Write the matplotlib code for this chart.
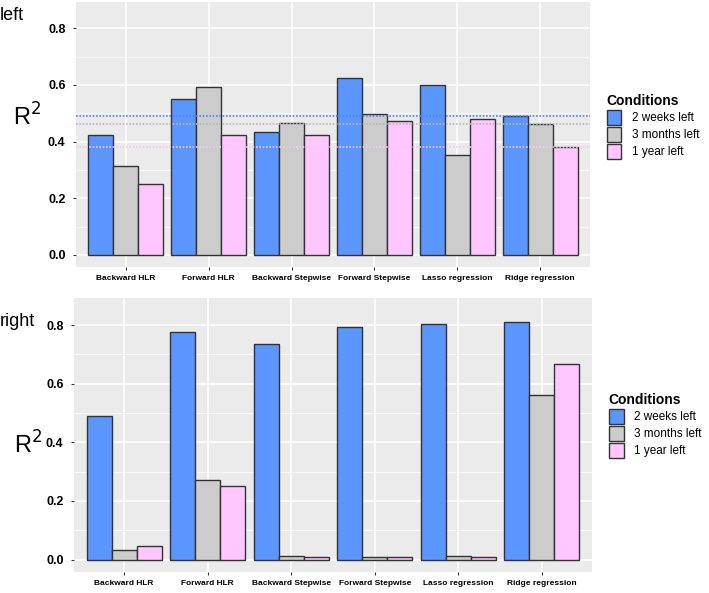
import matplotlib
matplotlib.use("Agg")
import matplotlib.pyplot as plt
import numpy as np
from matplotlib.patches import Patch

plt.rcParams['font.family'] = ['Liberation Sans', 'DejaVu Sans']

categories = ["Backward HLR", "Forward HLR", "Backward Stepwise",
              "Forward Stepwise", "Lasso regression", "Ridge regression"]
conditions = ["2 weeks left", "3 months left", "1 year left"]

left_2w = [0.422, 0.549, 0.434, 0.626, 0.598, 0.491]
left_3m = [0.313, 0.593, 0.467, 0.498, 0.351, 0.461]
left_1y = [0.250, 0.422, 0.422, 0.472, 0.481, 0.382]

right_2w = [0.489, 0.775, 0.734, 0.793, 0.804, 0.809]
right_3m = [0.034, 0.271, 0.011, 0.010, 0.012, 0.563]
right_1y = [0.045, 0.251, 0.010, 0.008, 0.008, 0.666]

# reference lines (Ridge regression values) in the left panel
ref_left = [0.491, 0.463, 0.382]

fills = ["#5B96FF", "#CCCCCC", "#FFC6FF"]
line_cols = ["#4F86F0", "#B8B8B8", "#FFC0F5"]

fig = plt.figure(figsize=(7.09, 5.93), dpi=100)
W, H = 709, 593

def make_ax(l, r, t, b):
    return fig.add_axes([l / W, 1 - b / H, (r - l) / W, (b - t) / H])

ax1 = make_ax(76, 590, 2, 267)
ax2 = make_ax(74, 592, 298, 572)

def draw(ax, series, refs=None):
    ax.set_facecolor("#EBEBEB")
    x = np.arange(1, len(categories) + 1)
    w = 0.3
    for i, (vals, col) in enumerate(zip(series, fills)):
        ax.bar(x + (i - 1) * w, vals, width=w, color=col, edgecolor="#333333",
               linewidth=1.0, zorder=3)
    if refs is not None:
        for v, c in zip(refs, line_cols):
            ax.axhline(v, color=c, linestyle=(0, (1, 1)), linewidth=1.2, zorder=4)
    ax.set_xlim(0.4, 6.6)
    ax.set_ylim(-0.0425, 0.8925)
    ax.set_yticks([0.0, 0.2, 0.4, 0.6, 0.8])
    ax.set_yticks([0.1, 0.3, 0.5, 0.7], minor=True)
    ax.set_xticks(x)
    ax.set_xticklabels(categories, fontsize=6, fontweight="bold")
    ax.set_yticklabels(["0.0", "0.2", "0.4", "0.6", "0.8"], fontsize=9,
                       fontweight="bold")
    ax.grid(which="major", color="white", linewidth=1.1, zorder=0)
    ax.grid(which="minor", axis="y", color="white", linewidth=0.5, zorder=0)
    ax.set_axisbelow(True)
    for s in ax.spines.values():
        s.set_visible(False)
    ax.tick_params(which="major", length=2.5, color="#333333", width=0.8)
    ax.tick_params(axis="x", pad=3)
    ax.tick_params(axis="y", pad=5)
    ax.tick_params(which="minor", length=0)
    handles = [Patch(facecolor=c, edgecolor="#333333", linewidth=1.0, label=l)
               for c, l in zip(fills, conditions)]
    leg = ax.legend(handles=handles, title="Conditions", loc="upper left",
                    bbox_to_anchor=(1.021, 0.675),
                    frameon=False, fontsize=8.5,
                    title_fontproperties={"weight": "bold", "size": 10},
                    borderpad=0, handlelength=1.25, handleheight=1.6,
                    handletextpad=0.9, labelspacing=0.15)
    leg._legend_box.align = "left"

draw(ax1, [left_2w, left_3m, left_1y], refs=ref_left)
draw(ax2, [right_2w, right_3m, right_1y])

fig.text(0.0, 1 - 16 / H, "left", fontsize=13, va="center", ha="left")
fig.text(0.0, 1 - 322 / H, "right", fontsize=13, va="center", ha="left")
fig.text(27 / W, 1 - 117 / H, "R$^2$", fontsize=17, va="center", ha="center")
fig.text(28 / W, 1 - 445 / H, "R$^2$", fontsize=17, va="center", ha="center")

fig.savefig("out.png", dpi=100, facecolor="white")
